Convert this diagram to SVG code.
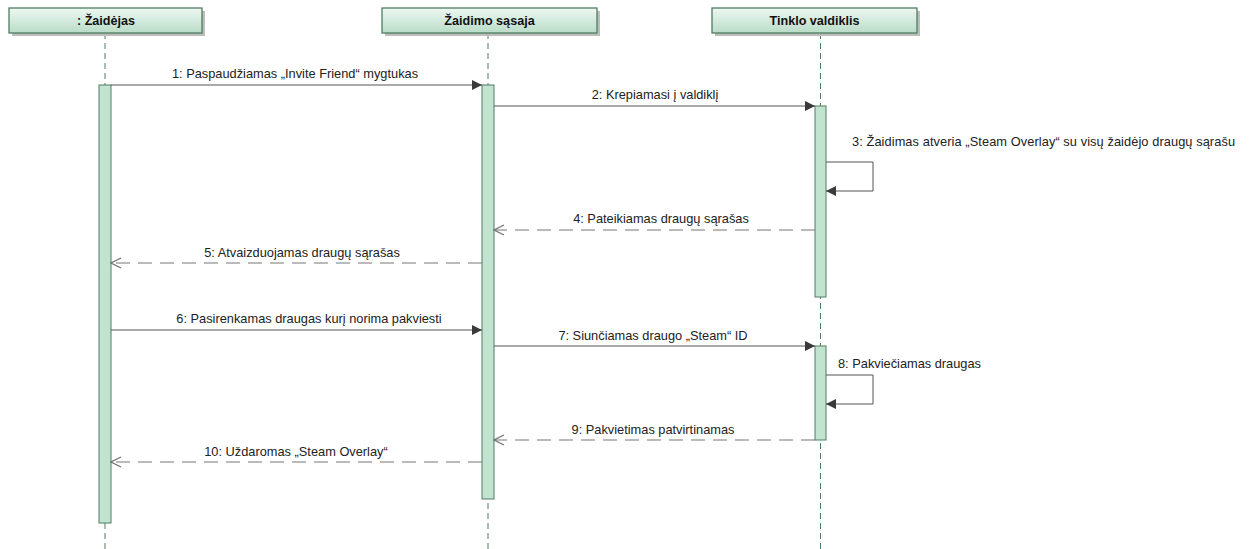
<svg xmlns="http://www.w3.org/2000/svg" width="1252" height="549" viewBox="0 0 1252 549">
  <defs>
    <linearGradient id="hdr" x1="0" y1="0" x2="0" y2="1">
      <stop offset="0" stop-color="#eef8f2"/>
      <stop offset="1" stop-color="#b9dcc8"/>
    </linearGradient>
    <marker id="sync" viewBox="0 0 10 10" refX="10" refY="5" markerWidth="10" markerHeight="10" markerUnits="userSpaceOnUse" orient="auto">
      <path d="M0,0 L10,5 L0,10 Z" fill="#3a3a3a"/>
    </marker>
    <marker id="reply" viewBox="0 0 12 12" refX="11" refY="6" markerWidth="12" markerHeight="12" markerUnits="userSpaceOnUse" orient="auto">
      <path d="M1,1 L11,6 L1,11" fill="none" stroke="#707070" stroke-width="1.2"/>
    </marker>
  </defs>
  <style>
    .head { fill: url(#hdr); stroke: #4e7d62; stroke-width: 1.3; }
    .shadow { fill: #bdbdbd; }
    .htxt { font-family: "Liberation Sans", Arial, sans-serif; font-size: 12.6px; font-weight: bold; fill: #111; text-anchor: middle; }
    .life { stroke: #4e7d62; stroke-width: 1; stroke-dasharray: 6 4; fill: none; }
    .act { fill: #c3e3d1; stroke: #4e7d62; stroke-width: 1; }
    .msg { stroke: #555; stroke-width: 1; fill: none; marker-end: url(#sync); }
    .ret { stroke: #767676; stroke-width: 1.2; stroke-dasharray: 14 8; fill: none; marker-end: url(#reply); }
    .lbl { font-family: "Liberation Sans", Arial, sans-serif; font-size: 12.8px; fill: #222; text-anchor: middle; }
    .lbls { font-family: "Liberation Sans", Arial, sans-serif; font-size: 12.8px; fill: #222; }
  </style>

  <rect width="1252" height="549" fill="#ffffff"/>

  <!-- lifeline: player -->
  <g id="player">
    <line class="life" x1="105" y1="33" x2="105" y2="549"/>
    <rect class="shadow" x="12" y="11" width="193" height="25"/>
    <rect class="head" x="9" y="8" width="193" height="25"/>
    <text class="htxt" x="106" y="25">: Žaidėjas</text>
    <rect class="act" x="99" y="85" width="12" height="438"/>
  </g>

  <!-- lifeline: game interface -->
  <g id="ui">
    <line class="life" x1="488" y1="33" x2="488" y2="549"/>
    <rect class="shadow" x="385" y="11" width="215" height="25"/>
    <rect class="head" x="382" y="8" width="215" height="25"/>
    <text class="htxt" x="489.5" y="25">Žaidimo sąsaja</text>
    <rect class="act" x="482" y="85" width="12" height="414"/>
  </g>

  <!-- lifeline: network controller -->
  <g id="net">
    <line class="life" x1="820.5" y1="33" x2="820.5" y2="549"/>
    <rect class="shadow" x="715" y="11" width="205" height="25"/>
    <rect class="head" x="712" y="8" width="205" height="25"/>
    <text class="htxt" x="814.5" y="25">Tinklo valdiklis</text>
    <rect class="act" x="815" y="106" width="11" height="191"/>
    <rect class="act" x="815" y="346" width="11" height="94"/>
  </g>

  <!-- messages -->
  <g id="connectors">
    <line class="msg" x1="111" y1="85" x2="482" y2="85"/>
    <text class="lbl" x="295" y="78">1: Paspaudžiamas „Invite Friend“ mygtukas</text>

    <line class="msg" x1="494" y1="106" x2="815" y2="106"/>
    <text class="lbl" x="655" y="99">2: Krepiamasi į valdiklį</text>

    <path class="msg" d="M826,162 H873 V191 H826"/>
    <text class="lbls" x="852" y="146" textLength="383">3: Žaidimas atveria „Steam Overlay“ su visų žaidėjo draugų sąrašu</text>

    <line class="ret" x1="815" y1="230" x2="494" y2="230"/>
    <text class="lbl" x="661" y="223">4: Pateikiamas draugų sąrašas</text>

    <line class="ret" x1="482" y1="263" x2="111" y2="263"/>
    <text class="lbl" x="302" y="257">5: Atvaizduojamas draugų sąrašas</text>

    <line class="msg" x1="111" y1="330" x2="482" y2="330"/>
    <text class="lbl" x="309" y="323">6: Pasirenkamas draugas kurį norima pakviesti</text>

    <line class="msg" x1="494" y1="346" x2="815" y2="346"/>
    <text class="lbl" x="653" y="340">7: Siunčiamas draugo „Steam“ ID</text>

    <path class="msg" d="M826,375 H873 V404 H826"/>
    <text class="lbls" x="838" y="368">8: Pakviečiamas draugas</text>

    <line class="ret" x1="815" y1="440" x2="494" y2="440"/>
    <text class="lbl" x="653" y="434">9: Pakvietimas patvirtinamas</text>

    <line class="ret" x1="482" y1="462" x2="111" y2="462"/>
    <text class="lbl" x="296" y="456">10: Uždaromas „Steam Overlay“</text>
  </g>
</svg>
